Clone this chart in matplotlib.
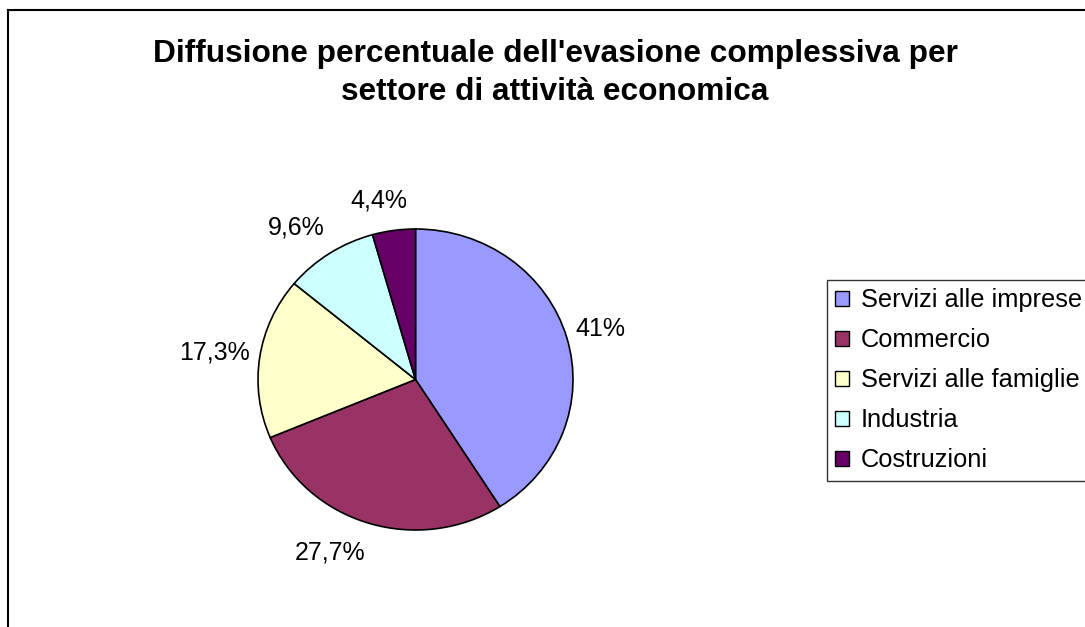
import numpy as np
import matplotlib
matplotlib.use("Agg")
import matplotlib.pyplot as plt
from matplotlib.patches import Rectangle
from matplotlib.transforms import ScaledTranslation

plt.rcParams['font.family'] = ['Liberation Sans', 'DejaVu Sans']

title = "Diffusione percentuale dell'evasione complessiva per\nsettore di attività economica"
categories = ["Servizi alle imprese", "Commercio", "Servizi alle famiglie", "Industria", "Costruzioni"]
values = [41.0, 27.7, 17.3, 9.6, 4.4]
colors = ["#9999FF", "#993366", "#FFFFCC", "#CCFFFF", "#660066"]

W, H = 1085, 627
fig = plt.figure(figsize=(W / 100, H / 100), dpi=100)

# outer chart border (cut off on right and bottom)
fig.patches.append(Rectangle((8 / W, -0.1), 1.2, (1 - 10 / H) + 0.1, transform=fig.transFigure,
                             fill=False, ec='black', lw=1.5, zorder=0))

fig.text(555 / W, 1 - 100 / H, title, ha='center', va='baseline', fontsize=22.8,
         fontweight='bold', linespacing=1.34)

# pie axes (slightly wider than tall, as in the reference)
left, right, top, bottom = 258, 573, 229, 530
ax = fig.add_axes([left / W, 1 - bottom / H, (right - left) / W, (bottom - top) / H])
wedges, _ = ax.pie(values, colors=colors, startangle=90, counterclock=False,
                   wedgeprops=dict(edgecolor='black', linewidth=1.2))
ax.set_aspect('auto')
ax.set_xlim(-1, 1)
ax.set_ylim(-1, 1)
ax.axis('off')

fig.canvas.draw()
renderer = fig.canvas.get_renderer()
for w, v in zip(wedges, values):
    ang = np.deg2rad((w.theta1 + w.theta2) / 2)
    c, s = np.cos(ang), np.sin(ang)
    x, y = 1.06 * c, 1.12 * s
    txt = f"{v:g}".replace('.', ',') + '%'
    t = ax.text(x, y, txt, ha='left', va='bottom', fontsize=18, clip_on=False)
    bb = t.get_window_extent(renderer)
    fx = np.clip(0.5 - 1.75 * c, 0, 1)
    fy = np.clip(0.5 - 0.54 * s, 0, 1) if s > -0.5 else 1.0
    t.set_transform(ax.transData + ScaledTranslation(-fx * bb.width / fig.dpi,
                                                     -fy * bb.height / fig.dpi,
                                                     fig.dpi_scale_trans))

leg = fig.legend(wedges, categories, loc='upper left',
                 bbox_to_anchor=(827 / W, 1 - 280 / H), bbox_transform=fig.transFigure,
                 fontsize=18.3, frameon=True, fancybox=False, borderaxespad=0,
                 handlelength=0.55, handleheight=0.55, handletextpad=0.45,
                 borderpad=0.33, labelspacing=0.63)
leg.get_frame().set_edgecolor('black')
leg.get_frame().set_linewidth(1.0)
for h in leg.legend_handles:
    h.set_edgecolor('black')
    h.set_linewidth(1.0)

fig.savefig('out.png', dpi=100)
